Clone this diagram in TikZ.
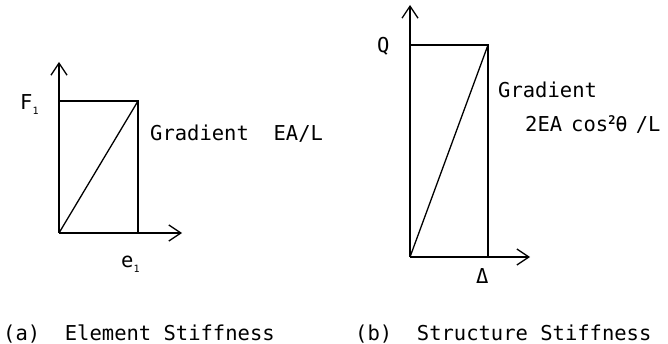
\documentclass[tikz,border=0pt]{standalone}
\usepackage{fontspec}
\setmainfont{DejaVu Sans Mono}
\usetikzlibrary{arrows.meta}
\newcommand{\subone}{\raisebox{-5pt}{\fontsize{10}{10}\selectfont 1}}
\begin{document}
\begin{tikzpicture}[x=1pt,y=-1pt,
  axis/.style={line width=1.3pt,-{Straight Barb[length=12pt,width=16pt,line width=1.3pt]}},
  frame/.style={line width=1.3pt},
  lbl/.style={font=\fontsize{20.5}{22}\selectfont,inner sep=0pt,anchor=base west}]
\useasboundingbox (0,0) rectangle (668,344);
% left plot
\coordinate (oA) at (59,233);
\coordinate (yA) at (59,62);
\coordinate (xA) at (182,233);
\coordinate (tlA) at (59,101);
\coordinate (trA) at (138,101);
\coordinate (brA) at (138,233);
\draw[axis] (oA) -- (yA);
\draw[axis] (oA) -- (xA);
\draw[frame] (tlA) -- (trA) -- (brA);
\draw[frame] (oA) -- (trA);
\node[lbl] (F1) at (20,110) {F\subone};
\node[lbl] (e1) at (121,268) {e\subone};
\node[lbl] (gA) at (150,141) {Gradient\ \ EA/L};
% right plot
\coordinate (oB) at (410,257);
\coordinate (yB) at (410,5);
\coordinate (xB) at (530,257);
\coordinate (tlB) at (410,45);
\coordinate (trB) at (488,45);
\coordinate (brB) at (488,257);
\draw[axis] (oB) -- (yB);
\draw[axis] (oB) -- (xB);
\draw[frame] (tlB) -- (trB) -- (brB);
\draw[frame] (oB) -- (trB);
\node[lbl] (Q) at (377,53) {Q};
\node[lbl] (D) at (476,283) {Δ};
\node[lbl] (gB) at (498,98) {Gradient};
\node[lbl] (gB2) at (525,132) {2EA\hspace{9pt}cos\raisebox{7pt}{\fontsize{12}{12}\selectfont\bfseries 2}θ\hspace{8pt}/L};
% captions
\node[lbl] (ca) at (3,340) {(a)\ \ Element Stiffness};
\node[lbl] (cb) at (355,340) {(b)\ \ Structure Stiffness};
\end{tikzpicture}
\end{document}
